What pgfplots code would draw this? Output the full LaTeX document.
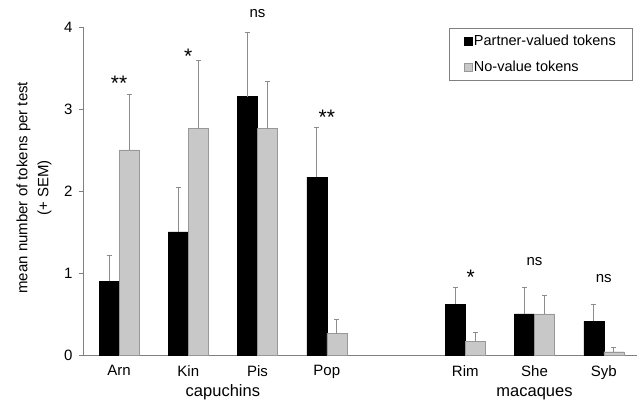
\documentclass[border=0pt]{standalone}
\usepackage{fontspec}
\setmainfont{Liberation Sans}
\usepackage{pgfplots}
\pgfplotsset{compat=1.18}
\definecolor{barGrey}{HTML}{C8C8C8}
\definecolor{barGreyEdge}{HTML}{989898}
\definecolor{errGrey}{HTML}{8C8C8C}
\definecolor{axGrey}{HTML}{808080}
\begin{document}
\begin{tikzpicture}
\path[use as bounding box] (-83pt,-49pt) rectangle (557pt,355pt);
\begin{axis}[
  scale only axis,
  width=554pt, height=328pt,
  xmin=-0.52, xmax=7.48,
  ymin=0, ymax=4,
  clip=false,
  ybar=0pt,
  bar width=20pt,
  axis x line*=bottom,
  axis y line*=left,
  axis line style={axGrey, line width=0.8pt},
  xtick={0,1,2,3,5,6,7},
  xticklabels={Arn,Kin,Pis,Pop,Rim,She,Syb},
  xtick style={draw=none},
  ytick={0,1,2,3,4},
  ytick style={axGrey, line width=0.8pt},
  tick align=outside,
  major tick length=4pt,
  /pgf/number format/assume math mode=true,
  tick label style={font=\fontsize{15}{17}\selectfont},
  xticklabel style={yshift=-3pt},
  yticklabel style={xshift=-3pt},
  legend style={at={(0.991,0.997)}, anchor=north east, draw=axGrey,
    font=\fontsize{14.5}{16}\selectfont, inner xsep=14pt, inner ysep=5pt,
    row sep=10pt, cells={anchor=west}},
  legend image code/.code={\draw[#1] (0pt,-4pt) rectangle (8pt,4pt);},
  error bars/y dir=plus,
  error bars/y explicit,
  error bars/error bar style={errGrey, line width=0.8pt},
  error bars/error mark options={errGrey, rotate=90, mark size=2.5pt, line width=0.8pt},
]
\addplot[fill=black, draw=black] coordinates {
  (0,0.90) +- (0,0.32)
  (1,1.50) +- (0,0.54)
  (2,3.15) +- (0,0.78)
  (3,2.17) +- (0,0.61)
  (5,0.62) +- (0,0.21)
  (6,0.50) +- (0,0.33)
  (7,0.41) +- (0,0.21)
};
\addplot[fill=barGrey, draw=barGreyEdge] coordinates {
  (0,2.50) +- (0,0.68)
  (1,2.76) +- (0,0.83)
  (2,2.76) +- (0,0.58)
  (3,0.26) +- (0,0.17)
  (5,0.17) +- (0,0.10)
  (6,0.50) +- (0,0.23)
  (7,0.04) +- (0,0.05)
};
\legend{Partner-valued tokens, No-value tokens}
\begin{scope}[every node/.style={font=\fontsize{15}{17}\selectfont, anchor=base, inner sep=0pt}]
\node[font=\fontsize{21}{21}\selectfont] at (axis cs:0,3.23) {**};
\node[font=\fontsize{21}{21}\selectfont] at (axis cs:1,3.56) {*};
\node at (axis cs:2,4.12) {ns};
\node[font=\fontsize{21}{21}\selectfont] at (axis cs:3,2.81) {**};
\node[font=\fontsize{21}{21}\selectfont] at (axis cs:5.08,0.86) {*};
\node at (axis cs:6,1.09) {ns};
\node at (axis cs:7,0.88) {ns};
\node[font=\fontsize{16.5}{18}\selectfont] at (axis cs:1.5,0) [yshift=-42pt] {capuchins};
\node[font=\fontsize{16.5}{18}\selectfont] at (axis cs:6,0) [yshift=-42pt] {macaques};
\end{scope}
\node[xshift=-49pt, rotate=90, align=center, font=\fontsize{15}{21}\selectfont, inner sep=0pt]
  at (rel axis cs:0,0.51) {mean number of tokens per test\\(+ SEM)};
\end{axis}
\end{tikzpicture}
\end{document}
